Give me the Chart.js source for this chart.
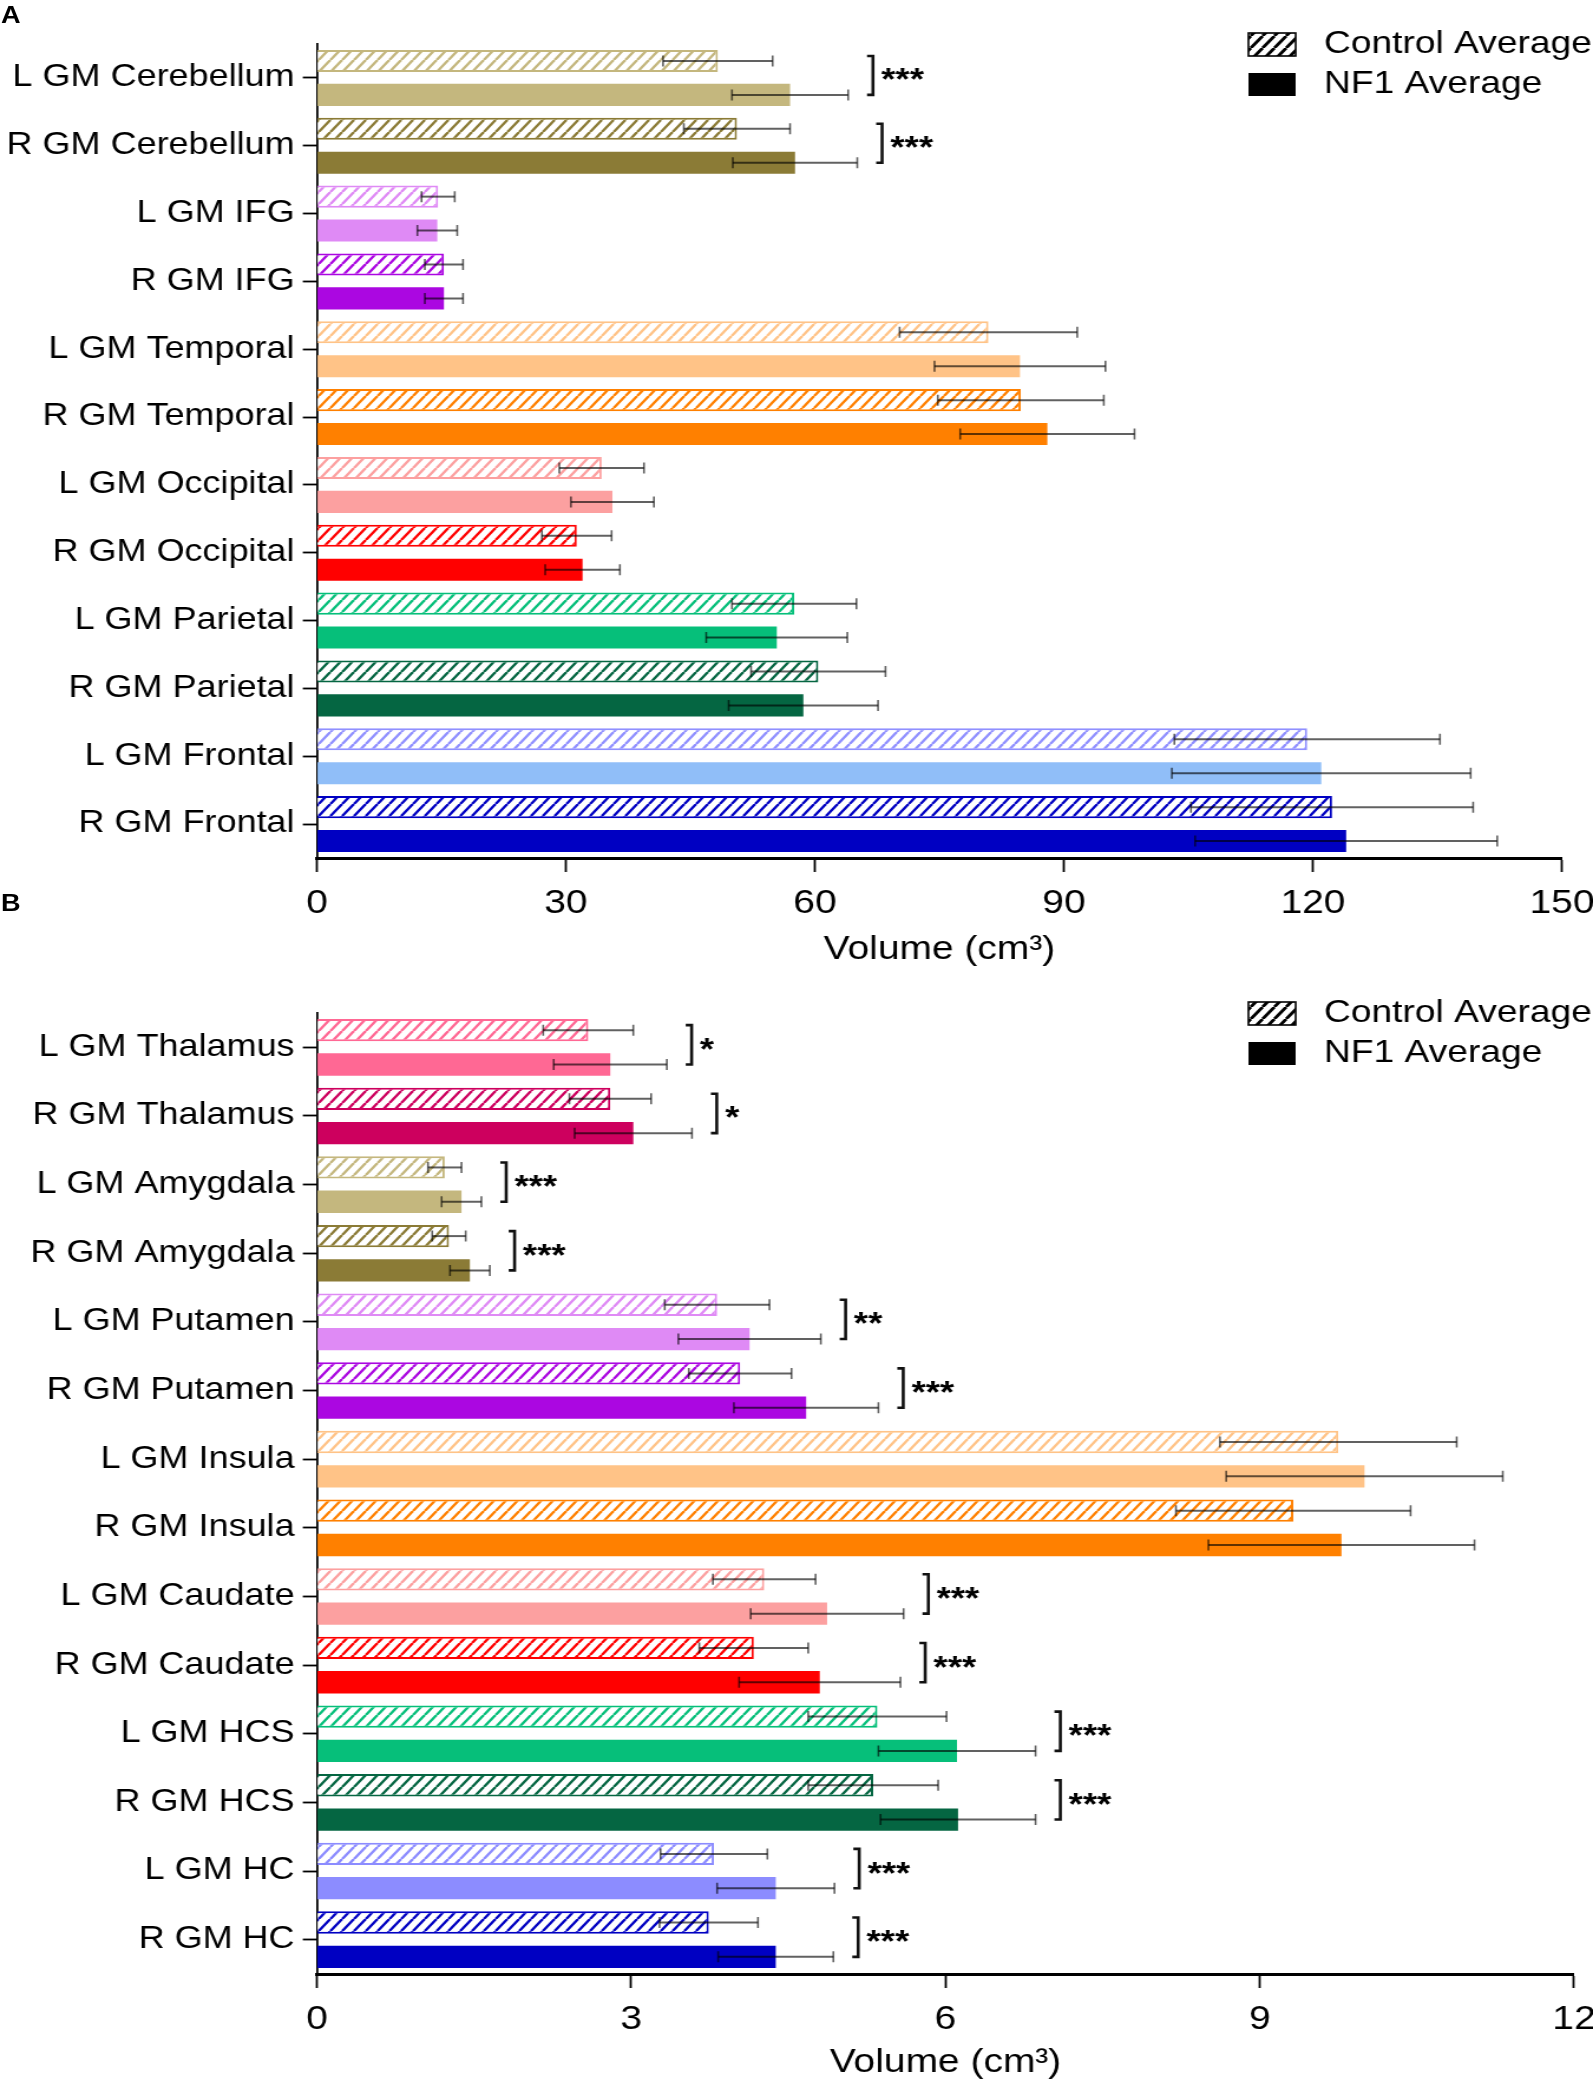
<!DOCTYPE html>
<html>
<head>
<meta charset="utf-8">
<script src="https://cdn.jsdelivr.net/npm/chart.js@4.4.1/dist/chart.umd.min.js"></script>
<style>
  html, body { margin: 0; padding: 0; background: #fff; }
  body { width: 1593px; height: 2084px; position: relative; overflow: hidden; }
  canvas { position: absolute; left: 0; }
  .panel { position: absolute; left: 1px; font: bold 23px "Liberation Sans", Arial, sans-serif; line-height: 23px;
           transform: scaleX(1.18); transform-origin: 0 0; color: #000; }
</style>
</head>
<body>
<canvas id="chartA" width="1350" height="971" style="top:0;width:1593px;height:971px"></canvas>
<canvas id="chartB" width="1350" height="1113" style="top:971px;width:1593px;height:1113px"></canvas>
<div class="panel" style="top:4px">A</div>
<div class="panel" style="top:892px">B</div>
<script>
// panel A - cortical / cerebellar grey matter
const regionsA = ['L GM Cerebellum', 'R GM Cerebellum', 'L GM IFG', 'R GM IFG', 'L GM Temporal', 'R GM Temporal',
                  'L GM Occipital', 'R GM Occipital', 'L GM Parietal', 'R GM Parietal', 'L GM Frontal', 'R GM Frontal'];
const controlA   = [48.3, 50.6, 14.6, 15.3, 80.9, 84.8, 34.3, 31.3, 57.5, 60.4, 119.3, 122.3];
const controlSdA = [6.6, 6.4, 2.0, 2.3, 10.7, 10.0, 5.1, 4.2, 7.5, 8.1, 16.0, 17.0];
const nf1A       = [57.0, 57.6, 14.5, 15.3, 84.7, 88.0, 35.6, 32.0, 55.4, 58.6, 121.0, 124.0];
const nf1SdA     = [7.0, 7.5, 2.4, 2.3, 10.3, 10.5, 5.0, 4.5, 8.5, 9.0, 18.0, 18.2];
const sigA       = ['***', '***', '', '', '', '', '', '', '', '', '', ''];
const ticksA     = [0, 30, 60, 90, 120, 150];

// panel B - subcortical grey matter
const regionsB = ['L GM Thalamus', 'R GM Thalamus', 'L GM Amygdala', 'R GM Amygdala', 'L GM Putamen', 'R GM Putamen',
                  'L GM Insula', 'R GM Insula', 'L GM Caudate', 'R GM Caudate', 'L GM HCS', 'R GM HCS', 'L GM HC', 'R GM HC'];
const controlB   = [2.59, 2.80, 1.22, 1.26, 3.82, 4.04, 9.75, 9.32, 4.27, 4.17, 5.35, 5.31, 3.79, 3.74];
const controlSdB = [0.43, 0.39, 0.16, 0.16, 0.50, 0.49, 1.13, 1.12, 0.49, 0.52, 0.66, 0.62, 0.51, 0.47];
const nf1B       = [2.80, 3.02, 1.38, 1.46, 4.13, 4.67, 10.0, 9.78, 4.87, 4.80, 6.11, 6.12, 4.38, 4.38];
const nf1SdB     = [0.54, 0.56, 0.19, 0.19, 0.68, 0.69, 1.32, 1.27, 0.73, 0.77, 0.75, 0.74, 0.56, 0.55];
const sigB       = ['*', '*', '***', '***', '**', '***', '', '', '***', '***', '***', '***', '***', '***'];
const ticksB     = [0, 3, 6, 9, 12];

const legendLabels = ['Control Average', 'NF1 Average'];
const axisTitle = 'Volume (cm\u00B3)';

// colours
const nf1ColorsA = ['#C4B77E', '#8B7B36', '#DF8AF5', '#AB07E1', '#FFC387', '#FF8000',
                    '#FCA0A0', '#FF0000', '#06BF7A', '#056642', '#90BEF8', '#0000C2'];
const controlColorsA = ['#C4B77E', '#8B7B36', '#DF8AF5', '#AB07E1', '#FFC387', '#FF8000',
                        '#FCA0A0', '#FF0000', '#06BF7A', '#056642', '#9090FF', '#0000C2'];
const nf1ColorsB = ['#FF6894', '#CD005E', '#C4B77E', '#8B7B36', '#DF8AF5', '#AB07E1', '#FFC387',
                    '#FF8000', '#FCA0A0', '#FF0000', '#06BF7A', '#056642', '#8C8CFF', '#0000C2'];
const controlColorsB = nf1ColorsB;

const FONT = '"Liberation Sans", Arial, sans-serif';
const W = 1350;   // canvas is drawn 1350 wide and shown 1593 wide, like the source figure

function hatch(ctx, color, lw) {
  const t = document.createElement('canvas');
  t.width = 10; t.height = 12;
  const g = t.getContext('2d');
  g.fillStyle = '#fff';
  g.fillRect(0, 0, 10, 12);
  g.strokeStyle = color;
  g.lineWidth = lw;
  g.beginPath();
  for (let i = -1; i <= 1; i++) {
    g.moveTo(i * 10, 12);
    g.lineTo(i * 10 + 10, 0);
  }
  g.stroke();
  return ctx.createPattern(t, 'repeat');
}

const errorBars = {
  id: 'errorBars',
  afterDatasetsDraw(chart) {
    const ctx = chart.ctx, xs = chart.scales.x;
    ctx.save();
    ctx.strokeStyle = 'rgba(0,0,0,0.62)';
    chart.data.datasets.forEach((ds, di) => {
      chart.getDatasetMeta(di).data.forEach((bar, i) => {
        const lo = xs.getPixelForValue(ds.data[i] - ds.sd[i]);
        const hi = xs.getPixelForValue(ds.data[i] + ds.sd[i]);
        const y = bar.y;
        ctx.lineWidth = 2;
        ctx.beginPath(); ctx.moveTo(lo, y); ctx.lineTo(hi, y); ctx.stroke();
        ctx.lineWidth = 1.6;
        ctx.beginPath();
        ctx.moveTo(lo, y - 5.5); ctx.lineTo(lo, y + 5.5);
        ctx.moveTo(hi, y - 5.5); ctx.lineTo(hi, y + 5.5);
        ctx.stroke();
      });
    });
    ctx.restore();
  }
};

const sigMarks = {
  id: 'sigMarks',
  afterDatasetsDraw(chart, args, opts) {
    const marks = opts.marks || [];
    const ctx = chart.ctx, xs = chart.scales.x;
    const [c, n] = chart.data.datasets;
    const cm = chart.getDatasetMeta(0).data, nm = chart.getDatasetMeta(1).data;
    ctx.save();
    marks.forEach((m, i) => {
      if (!m) return;
      const reach = Math.max(c.data[i] + c.sd[i], n.data[i] + n.sd[i]);
      const x = xs.getPixelForValue(reach) + 21;
      const y1 = cm[i].y - 5, y2 = nm[i].y;
      ctx.strokeStyle = '#111';
      ctx.lineWidth = 2.6;
      ctx.beginPath();
      ctx.moveTo(x - 5, y1); ctx.lineTo(x, y1); ctx.lineTo(x, y2); ctx.lineTo(x - 5, y2);
      ctx.stroke();
      ctx.fillStyle = '#000';
      ctx.font = 'bold 31px ' + FONT;
      ctx.textAlign = 'left';
      ctx.textBaseline = 'alphabetic';
      ctx.fillText(m, x + 7, (y1 + y2) / 2 + 15);
    });
    ctx.restore();
  }
};

const legendBox = {
  id: 'legendBox',
  afterDraw(chart) {
    const ctx = chart.ctx, top = chart.chartArea.top;
    ctx.save();
    legendLabels.forEach((label, k) => {
      const cy = top + 0.5 + 40 * k;
      if (k === 0) {
        ctx.fillStyle = hatch(ctx, '#000', 2.8);
        ctx.fillRect(1058, cy - 11.5, 40, 23);
        ctx.strokeStyle = '#000';
        ctx.lineWidth = 1.6;
        ctx.strokeRect(1058, cy - 11.5, 40, 23);
      } else {
        ctx.fillStyle = '#000';
        ctx.fillRect(1058, cy - 11.5, 40, 23);
      }
      ctx.fillStyle = '#000';
      ctx.font = '31.5px ' + FONT;
      ctx.textAlign = 'left';
      ctx.textBaseline = 'middle';
      ctx.fillText(label, 1122, cy);
    });
    ctx.restore();
  }
};

function makeChart(id, regions, ctrl, ctrlSd, nf1, nf1Sd, ctrlCols, nf1Cols, ticks, marks, area) {
  const canvas = document.getElementById(id);
  const ctx = canvas.getContext('2d');
  const H = canvas.height;
  return new Chart(ctx, {
    type: 'bar',
    data: {
      labels: regions,
      datasets: [
        {
          label: legendLabels[0],
          data: ctrl,
          sd: ctrlSd,
          backgroundColor: ctrlCols.map(c => hatch(ctx, c, 2.4)),
          borderColor: ctrlCols,
          borderWidth: 2,
          barPercentage: 0.65,
          categoryPercentage: 1
        },
        {
          label: legendLabels[1],
          data: nf1,
          sd: nf1Sd,
          backgroundColor: nf1Cols,
          borderWidth: 0,
          barPercentage: 0.65,
          categoryPercentage: 1
        }
      ]
    },
    options: {
      indexAxis: 'y',
      responsive: false,
      animation: false,
      devicePixelRatio: 1,
      layout: { padding: { top: area.top, right: W - area.right, left: 0, bottom: 0 } },
      scales: {
        y: {
          offset: true,
          grid: { drawOnChartArea: false, offset: false, drawTicks: true, tickLength: 12, tickWidth: 1.8, tickColor: '#000' },
          border: { display: true, color: '#000', width: 1.8 },
          ticks: { color: '#000', font: { family: FONT, size: 30.5 }, padding: 7, autoSkip: false },
          afterFit(s) { s.width = area.left; s.paddingTop = 0; s.paddingBottom = 0; }
        },
        x: {
          type: 'linear',
          min: ticks[0],
          max: ticks[ticks.length - 1],
          afterBuildTicks(s) { s.ticks = ticks.map(v => ({ value: v })); },
          grid: { drawOnChartArea: false, drawTicks: true, tickLength: 14, tickWidth: 1.8, tickColor: '#000' },
          border: { display: true, color: '#000', width: 3 },
          ticks: { color: '#000', font: { family: FONT, size: 33 }, padding: 12, maxRotation: 0 },
          title: { display: true, text: axisTitle, color: '#000', font: { family: FONT, size: 33 }, padding: { top: 0, bottom: 1 } },
          afterFit(s) { s.height = H - area.bottom; s.paddingLeft = 0; s.paddingRight = 0; }
        }
      },
      plugins: {
        legend: { display: false },
        tooltip: { enabled: false },
        sigMarks: { marks: marks }
      }
    },
    plugins: [errorBars, sigMarks, legendBox]
  });
}

makeChart('chartA', regionsA, controlA, controlSdA, nf1A, nf1SdA, controlColorsA, nf1ColorsA, ticksA, sigA,
          { left: 268.6, right: 1323.7, top: 44, bottom: 858 });
makeChart('chartB', regionsB, controlB, controlSdB, nf1B, nf1SdB, controlColorsB, nf1ColorsB, ticksB, sigB,
          { left: 268.6, right: 1333.9, top: 42, bottom: 1003 });
</script>
</body>
</html>
